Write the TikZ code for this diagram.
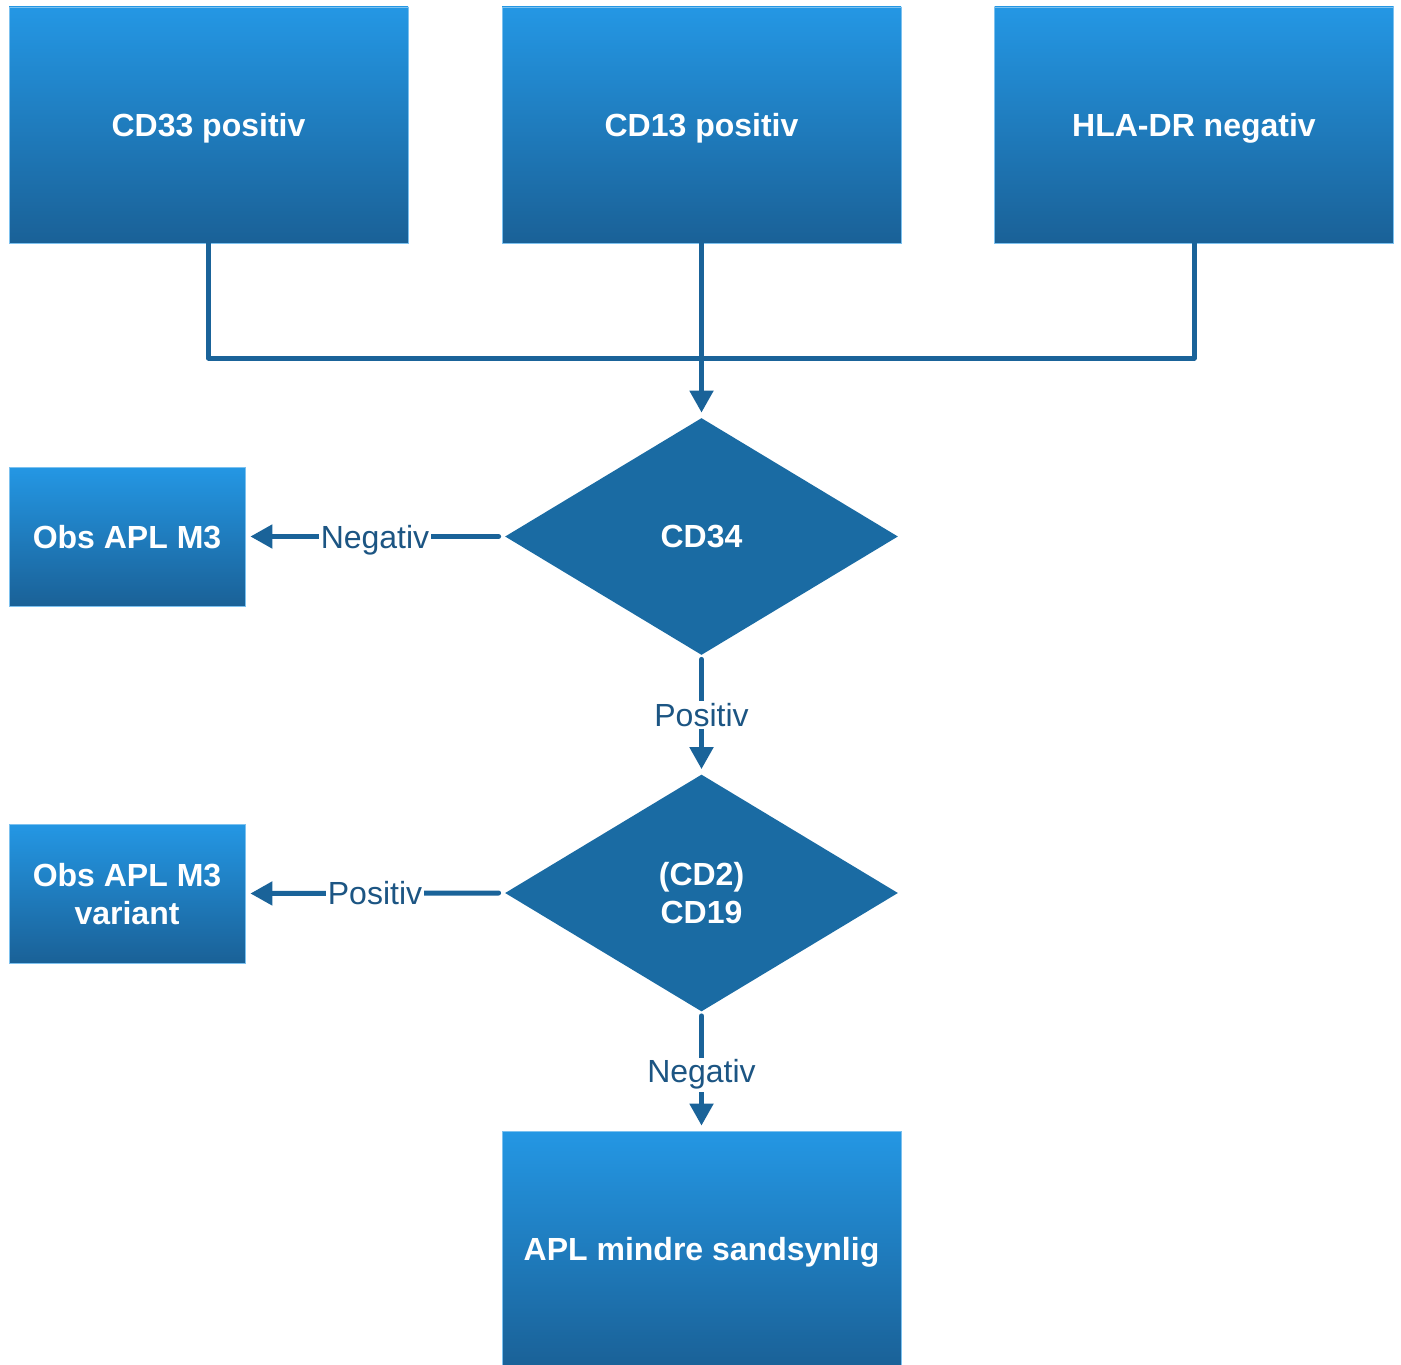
\documentclass[tikz,border=0pt]{standalone}
\usepackage{fontspec}
\setmainfont{Liberation Sans}
\usetikzlibrary{shapes.geometric,arrows.meta}
\definecolor{boxtop}{HTML}{2497E4}
\definecolor{boxbot}{HTML}{1A6197}
\definecolor{dia}{HTML}{1A6BA3}
\definecolor{linecol}{HTML}{1A6399}
\definecolor{labcol}{HTML}{1C5583}
\tikzset{
  box/.style={rectangle, top color=boxtop, bottom color=boxbot, draw=boxtop!60!white, line width=0.4pt,
    inner sep=0pt, text=white, font=\fontsize{16}{19}\selectfont\bfseries, align=center, text depth=0pt},
  bigbox/.style={box, minimum width=199.5pt, minimum height=118pt},
  smallbox/.style={box, minimum width=118pt, minimum height=69.5pt},
  decision/.style={diamond, fill=dia, inner sep=0pt, minimum width=196.5pt, minimum height=118.5pt,
    text=white, font=\fontsize{16}{19}\selectfont\bfseries, align=center},
  conn/.style={draw=linecol, line width=2.5pt, line cap=round, line join=round},
  arr/.style={conn, -{Triangle[width=11.5pt,length=11pt]}},
  lab/.style={fill=white, inner sep=1pt, text=labcol, font=\fontsize{16}{19}\selectfont},
  labdesc/.style={lab, yshift=-1.7pt}
}
\begin{document}
\begin{tikzpicture}[x=0.5pt,y=-0.5pt]
\useasboundingbox (0,0) rectangle (1401,1364);
\node[bigbox] (cd33) at (208.5,125) {CD33 positiv};
\node[bigbox] (cd13) at (701.5,125) {CD13 positiv};
\node[bigbox] (hla) at (1194,125) {HLA-DR negativ};
\node[decision] (cd34) at (701.5,536.5) {CD34};
\node[decision] (cd19) at (701.5,893) {(CD2)\\CD19};
\node[smallbox] (obs1) at (127,536.5) {Obs APL M3};
\node[smallbox] (obs2) at (127,893.5) {Obs APL M3\\variant};
\node[bigbox] (apl) at (701.5,1249) {APL mindre sandsynlig};
\coordinate (j) at (701.5,358);
\draw[conn] (cd33.south) |- (j);
\draw[conn] (hla.south) |- (j);
\draw[arr, shorten >=2.5pt] (cd13.south) -- (cd34.north);
\draw[arr, shorten <=3pt, shorten >=2.5pt] (cd34.west) -- node[labdesc]{Negativ} (obs1.east);
\draw[arr, shorten <=2pt, shorten >=2.5pt] (cd34.south) -- node[lab]{Positiv} (cd19.north);
\draw[arr, shorten <=3pt, shorten >=2.5pt] (cd19.west) -- node[lab]{Positiv} (obs2.east);
\draw[arr, shorten <=2pt, shorten >=2.5pt] (cd19.south) -- node[labdesc]{Negativ} (apl.north);
\end{tikzpicture}
\end{document}
